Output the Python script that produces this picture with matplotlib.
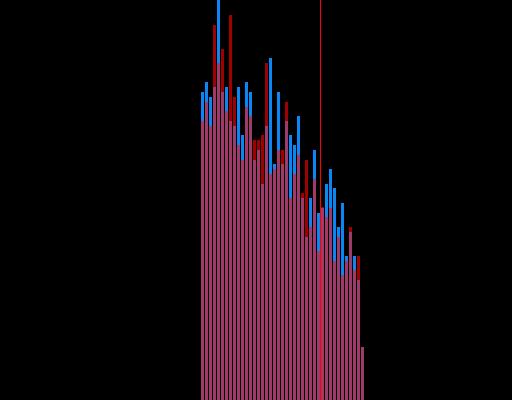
import matplotlib.pyplot as plt
import numpy as np

# Bar heights (baseline 0, top of image = 400)
blue_vals = [308, 318, 303, 313, 402, 308, 313, 279, 274, 313,
             265, 318, 308, 240, 250, 216, 274, 342, 236, 308,
             236, 279, 265, 255, 284, 202, 163, 202, 250, 187,
             192, 216, 231, 212, 173, 197, 144, 168, 144, 120, 53]
red_vals = [279, 298, 274, 375, 337, 351, 289, 385, 303, 255,
            240, 293, 284, 260, 260, 265, 337, 226, 231, 250,
            250, 298, 202, 226, 245, 207, 240, 173, 221, 149,
            193, 183, 192, 139, 163, 125, 139, 173, 130, 144, 53]
marker_x = 29.5

blue_vals = np.array(blue_vals)
red_vals = np.array(red_vals)
x = np.arange(len(blue_vals))
overlap = np.minimum(blue_vals, red_vals)

fig = plt.figure(figsize=(5.12, 4.0), dpi=100, facecolor='black')
ax = fig.add_axes([0, 0, 1, 1])
ax.set_facecolor('black')

ax.bar(x, blue_vals, width=0.75, color='#0a86f5', linewidth=0)
ax.bar(x, red_vals, width=0.75, color='#a00000', linewidth=0)
ax.bar(x, overlap, width=0.75, color='#a03a6a', linewidth=0)
# thin marker line, one pixel wide
ax.axvspan(marker_x - 0.14, marker_x + 0.14, color='#ff0000', linewidth=0)

ax.set_xlim(-50.625, 77.375)
ax.set_ylim(0, 400)
ax.axis('off')

plt.savefig('out.png', facecolor='black')
